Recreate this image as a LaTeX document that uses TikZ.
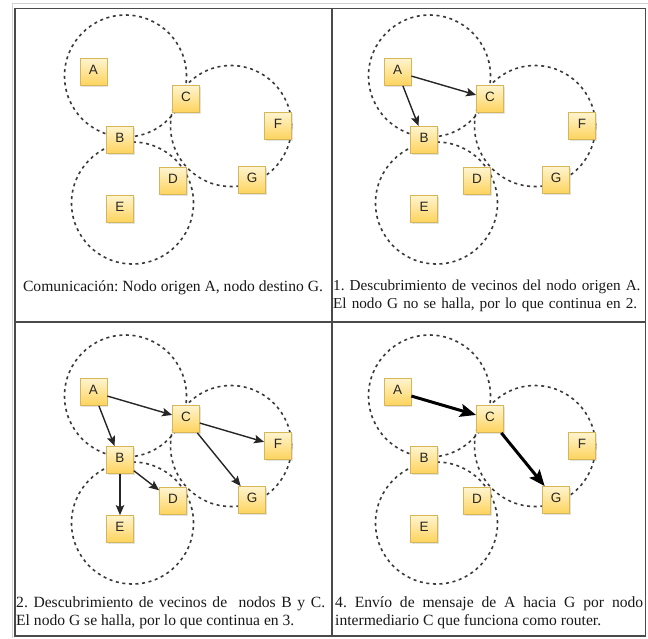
\documentclass[tikz,border=0pt]{standalone}
\usepackage{fontspec}
\setmainfont{Liberation Serif}
\newfontfamily\labelfont{Liberation Sans}
\usetikzlibrary{arrows.meta,shadows}
\definecolor{nodetop}{HTML}{FFF4CF}
\definecolor{nodebot}{HTML}{FDD35C}
\definecolor{nodeborder}{HTML}{D6B656}
\definecolor{ringcol}{HTML}{3A3A3A}
\definecolor{tablecol}{HTML}{4A4A4A}
\tikzset{
  ring/.style={draw=ringcol, line width=1.6pt, dash pattern=on 3pt off 3.6pt},
  nd/.style={draw=nodeborder, line width=0.8pt, top color=nodetop, bottom color=nodebot,
    minimum width=27pt, minimum height=27pt, inner sep=0pt,
    text height=9pt, text depth=5pt, font=\labelfont\fontsize{13.5}{13.5}\selectfont, text=black!85,
    drop shadow={opacity=0.22, shadow xshift=1.3pt, shadow yshift=-1.3pt}},
  arr/.style={-{Stealth[length=10pt,width=8.5pt,inset=2pt]}, line width=1.4pt, draw=black!85},
  bigarr/.style={-{Stealth[length=16pt,width=13pt,inset=3pt]}, line width=3pt, draw=black},
  tableline/.style={draw=tablecol, line width=1.5pt},
  captext/.style={inner sep=0pt, font=\fontsize{15.6}{18}\selectfont\frenchspacing, text=black!90},
}
\newcommand\drawpanel[3]{%
\begin{scope}[shift={(#2,#3)}]
  \draw[ring] (125.5,76) circle[radius=61pt];
  \draw[ring] (231,126) circle[radius=60.5pt];
  \draw[ring] (132.5,203) circle[radius=61pt];
  \node[nd] (A#1) at (93.5,72) {A};
  \node[nd] (C#1) at (186,99) {C};
  \node[nd] (B#1) at (120,140) {B};
  \node[nd] (F#1) at (278,126) {F};
  \node[nd] (D#1) at (173,181) {D};
  \node[nd] (G#1) at (252,180) {G};
  \node[nd] (E#1) at (120,209) {E};
\end{scope}}
\begin{document}
\begin{tikzpicture}[x=1pt,y=-1pt]
  \useasboundingbox (0,0) rectangle (648,638);
  \fill[white] (0,0) rectangle (648,638);
  % table
  \draw[gray!35, line width=0.8pt] (12,638) -- (12,3) -- (648,3);
  \draw[tableline] (15,8.5) rectangle (645.5,636);
  \draw[tableline] (332,8.5) -- (332,636);
  \draw[tableline] (15,322) -- (645.5,322);
  % panels
  \drawpanel{1}{0}{0}
  \drawpanel{2}{304}{0}
  \drawpanel{3}{0}{320}
  \drawpanel{4}{304}{320}
  % panel 2 arrows
  \draw[arr] (A2) -- (C2);
  \draw[arr] (A2) -- (B2);
  % panel 3 arrows
  \draw[arr] (A3) -- (C3);
  \draw[arr] (A3) -- (B3);
  \draw[arr] (C3) -- (F3);
  \draw[arr] (C3) -- (G3);
  \draw[arr] (B3) -- (E3);
  \draw[arr] (B3) -- (D3);
  % panel 4 arrows
  \draw[bigarr] (A4) -- (C4);
  \draw[bigarr] (C4) -- (G4);
  % captions
  \node[captext, anchor=base] (cap1) at (173,291) {Comunicación: Nodo origen A, nodo destino G.};
  \node[captext, font=\fontsize{15.2}{18}\selectfont\frenchspacing, anchor=base west, text width=340pt, align=left] (cap2) at (333,290)
    {1. Descubrimiento de vecinos del nodo origen A.\\El nodo G no se halla, por lo que continua en 2.};
  \node[captext, anchor=base west, text width=309pt, align=justify] (cap3) at (16,607)
    {2. Descubrimiento de vecinos de\ \ nodos B y C.\linebreak El nodo G se halla, por lo que continua en 3.};
  \node[captext, anchor=base west, text width=308pt, align=justify] (cap4) at (335,607)
    {4. Envío de mensaje de A hacia G por nodo\linebreak intermediario C que funciona como router.};
\end{tikzpicture}
\end{document}
